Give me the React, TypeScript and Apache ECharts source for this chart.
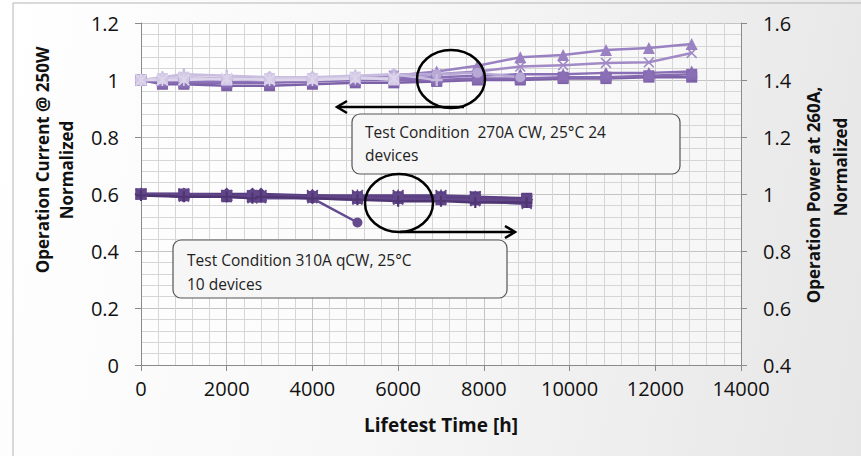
import React, { useEffect, useRef } from "react";
import * as echarts from "echarts";

// ---------- data ----------
const X_TICKS = [0, 2000, 4000, 6000, 8000, 10000, 12000, 14000];
const LEFT_TICKS = [0, 0.2, 0.4, 0.6, 0.8, 1, 1.2];
const RIGHT_TICKS = [0.4, 0.6, 0.8, 1, 1.2, 1.4, 1.6];

// Upper group: Operation Current @ 250W (left axis), 270A CW, 24 devices
const UPPER_X = [0, 500, 1000, 2000, 3000, 4000, 5000, 5900, 6900, 7850, 8850, 9850, 10850, 11850, 12850];
const U1 = [1.0, 1.0, 1.005, 1.0, 1.005, 1.005, 1.01, 1.015, 1.03, 1.05, 1.08, 1.088, 1.105, 1.112, 1.126];
const U2 = [1.0, 1.0, 1.0, 1.0, 1.0, 1.005, 1.01, 1.015, 1.02, 1.03, 1.047, 1.052, 1.06, 1.062, 1.095];
const U3 = [1.0, 1.0, 0.995, 0.995, 1.0, 1.0, 1.0, 1.005, 1.01, 1.015, 1.02, 1.02, 1.025, 1.025, 1.03];
const U4 = [1.0, 0.985, 0.985, 0.98, 0.98, 0.985, 0.99, 0.99, 0.995, 1.0, 1.0, 1.005, 1.005, 1.01, 1.01];
const U5 = [1.0, 0.99, 0.99, 0.99, 0.99, 0.995, 1.0, 1.0, 1.0, 1.005, 1.005, 1.01, 1.01, 1.015, 1.02];
const U6 = [1.0, 1.005, 1.01, 1.005, 1.01, 1.01, 1.01, 1.02, 1.02, 1.025, 1.01, null, null, null, null];
const U7 = [1.0, 1.01, 1.02, 1.015, 1.01, 1.01, 1.015, 1.02, 1.0, null, null, null, null, null, null];
const U8 = [1.0, 1.005, 1.01, 1.0, 1.005, 1.005, 1.01, 1.0, null, null, null, null, null, null, null];
const U9 = [1.0, 1.0, 1.0, 1.005, 1.0, 1.0, 1.005, 1.005, null, null, null, null, null, null, null];

// Lower group: Operation Power at 260A (right axis), 310A qCW, 10 devices
const LOWER_X = [0, 1000, 2000, 2600, 2800, 4000, 5050, 6000, 7000, 7800, 9000];
const L1 = [1.0, 0.995, 0.995, 0.99, 0.99, 0.99, 0.99, 0.99, 0.99, 0.99, 0.985];
const L2 = [1.0, 1.0, 1.0, 1.0, 1.0, 0.995, 0.99, 0.99, 0.99, 0.985, 0.98];
const L3 = [1.0, 0.99, 0.99, 0.99, 0.99, 0.985, 0.9, null, null, null, null];
const L4 = [1.0, 1.0, 0.995, 0.99, 0.995, 0.995, 0.995, 0.995, 0.995, 0.99, 0.975];
const L5 = [1.0, 0.99, 0.99, 0.985, 0.985, 0.985, 0.98, 0.98, 0.98, 0.975, 0.965];
const L6 = [1.0, 0.995, 0.99, 0.99, 0.99, 0.99, 0.985, 0.985, 0.985, 0.98, 0.97];
const L7 = [1.0, 1.0, 0.995, 0.995, 0.99, 0.99, 0.985, 0.985, 0.98, 0.98, 0.98];
const L8 = [0.995, 0.99, 0.99, 0.985, 0.99, 0.985, 0.98, 0.975, 0.975, 0.97, 0.97];

// ---------- styles ----------
const SYM_X = "path://M0,1L1,0L5,4L9,0L10,1L6,5L10,9L9,10L5,6L1,10L0,9L4,5Z";
const SYM_PLUS = "path://M4,0H6V4H10V6H6V10H4V6H0V4H4Z";
const SYM_STAR =
  "path://M0,1L1,0L5,4L9,0L10,1L6,5L10,9L9,10L5,6L1,10L0,9L4,5Z M4.4,0H5.6V10H4.4Z";

const FONT = "'Open Sans', 'Noto Sans', sans-serif";

function pairs(xs: number[], ys: (number | null)[]) {
  return xs.map((x, i) => [x, ys[i]]);
}

function line(name: string, xs: number[], ys: (number | null)[], color: string, symbol: string, size: number, yAxisIndex: number) {
  return {
    name,
    type: "line",
    yAxisIndex,
    data: pairs(xs, ys),
    symbol,
    symbolSize: size,
    showSymbol: true,
    connectNulls: false,
    lineStyle: { color, width: 2.5, join: "round" },
    itemStyle: { color, borderWidth: 0 },
    emphasis: { disabled: true },
  };
}

export default function App() {
  const ref = useRef<HTMLDivElement>(null);
  useEffect(() => {
    if (!ref.current) return;
    const chart = echarts.init(ref.current, null, { renderer: "svg" });
    const axisLabel = { color: "#111", fontSize: 20, fontFamily: FONT };
    const series = [
      line("U4", UPPER_X, U4, "#7d61a8", "rect", 11, 0),
      line("U5", UPPER_X, U5, "#876bb1", "rect", 11, 0),
      line("U3", UPPER_X, U3, "#8a6fb6", "triangle", 12, 0),
      line("U2", UPPER_X, U2, "#a18ac6", SYM_X, 11, 0),
      line("U1", UPPER_X, U1, "#9a82c2", "triangle", 12, 0),
      line("U6", UPPER_X, U6, "#b8a8d6", "circle", 10, 0),
      line("U7", UPPER_X, U7, "#c8bcdf", SYM_PLUS, 12, 0),
      line("U8", UPPER_X, U8, "#d3c9e6", "rect", 11, 0),
      line("U9", UPPER_X, U9, "#ddd6eb", SYM_STAR, 12, 0),
      line("L1", LOWER_X, L1, "#5a3d82", "rect", 11, 1),
      line("L2", LOWER_X, L2, "#553a7d", "diamond", 13, 1),
      line("L3", LOWER_X, L3, "#644a8e", "circle", 10, 1),
      line("L4", LOWER_X, L4, "#5e4387", SYM_STAR, 12, 1),
      line("L5", LOWER_X, L5, "#6b5296", SYM_X, 11, 1),
      line("L6", LOWER_X, L6, "#5c4185", "triangle", 11, 1),
      line("L7", LOWER_X, L7, "#614689", "rect", 11, 1),
      line("L8", LOWER_X, L8, "#4f3672", SYM_PLUS, 11, 1),
    ];
    const Z = 100;
    const titleStyle = {
      align: "center",
      verticalAlign: "middle",
      fontSize: 17,
      fontWeight: "bold",
      fontFamily: FONT,
      fill: "#111",
    };
    const noteStyle = { verticalAlign: "middle", fontSize: 15.5, fontFamily: FONT, fill: "#222" };
    chart.setOption({
      animation: false,
      backgroundColor: "transparent",
      grid: {
        left: 141,
        right: 120,
        top: 23,
        bottom: 91,
        show: true,
        backgroundColor: "rgba(255,255,255,0.55)",
        borderWidth: 0,
      },
      xAxis: {
        type: "value",
        min: X_TICKS[0],
        max: X_TICKS[X_TICKS.length - 1],
        interval: 2000,
        axisLine: { show: true, lineStyle: { color: "#8a8a8a", width: 1 } },
        axisTick: { show: true, length: 6, lineStyle: { color: "#8a8a8a" } },
        axisLabel: { ...axisLabel, margin: 13, formatter: (v: number) => String(v) },
        splitLine: { show: true, lineStyle: { color: "#c4c4c4", width: 1 } },
        minorTick: { show: false, splitNumber: 5 },
        minorSplitLine: { show: true, lineStyle: { color: "#d6d6d6", width: 1 } },
        name: "Lifetest Time [h]",
        nameLocation: "middle",
        nameGap: 50,
        nameTextStyle: { color: "#111", fontSize: 19, fontWeight: "bold", fontFamily: FONT },
      },
      yAxis: [
        {
          type: "value",
          min: LEFT_TICKS[0],
          max: LEFT_TICKS[LEFT_TICKS.length - 1],
          interval: 0.2,
          position: "left",
          axisLine: { show: true, lineStyle: { color: "#8a8a8a", width: 1 } },
          axisTick: { show: true, length: 6, lineStyle: { color: "#8a8a8a" } },
          axisLabel: { ...axisLabel, margin: 22 },
          splitLine: { show: true, lineStyle: { color: "#c4c4c4", width: 1 } },
          minorTick: { show: false, splitNumber: 5 },
          minorSplitLine: { show: true, lineStyle: { color: "#d6d6d6", width: 1 } },
        },
        {
          type: "value",
          min: RIGHT_TICKS[0],
          max: RIGHT_TICKS[RIGHT_TICKS.length - 1],
          interval: 0.2,
          position: "right",
          axisLine: { show: true, lineStyle: { color: "#8a8a8a", width: 1 } },
          axisTick: { show: true, length: 6, lineStyle: { color: "#8a8a8a" } },
          axisLabel: { ...axisLabel, margin: 22 },
          splitLine: { show: false },
        },
      ],
      series,
      graphic: [
        {
          type: "rect",
          z: -10,
          silent: true,
          shape: { x: 13, y: 3, width: 880, height: 480 },
          style: { fill: "none", stroke: "#b5b5b5", lineWidth: 1 },
        },
        // left axis title
        { type: "text", z: Z, x: 42, y: 160, rotation: Math.PI / 2, style: { ...titleStyle, text: "Operation Current @ 250W" } },
        { type: "text", z: Z, x: 66, y: 170, rotation: Math.PI / 2, style: { ...titleStyle, text: "Normalized" } },
        // right axis title
        { type: "text", z: Z, x: 813, y: 195, rotation: Math.PI / 2, style: { ...titleStyle, text: "Operation Power at 260A," } },
        { type: "text", z: Z, x: 840, y: 167, rotation: Math.PI / 2, style: { ...titleStyle, text: "Normalized" } },
        // upper annotation
        {
          type: "ellipse",
          z: Z,
          shape: { cx: 451, cy: 79, rx: 34, ry: 29 },
          style: { fill: "none", stroke: "#000", lineWidth: 2.5 },
        },
        {
          type: "line",
          z: Z,
          shape: { x1: 464, y1: 107, x2: 337, y2: 107 },
          style: { stroke: "#000", lineWidth: 2.5 },
        },
        {
          type: "polyline",
          z: Z,
          shape: { points: [[347, 101], [337, 107], [347, 113]] },
          style: { stroke: "#000", lineWidth: 2.5, fill: "none" },
        },
        {
          type: "rect",
          z: Z,
          shape: { x: 352, y: 114, width: 328, height: 60, r: 8 },
          style: { fill: "#f6f6f6", stroke: "#555", lineWidth: 1.2 },
        },
        { type: "text", z: Z + 1, x: 365, y: 132, style: { ...noteStyle, text: "Test Condition  270A CW, 25°C 24" } },
        { type: "text", z: Z + 1, x: 365, y: 155, style: { ...noteStyle, text: "devices" } },
        // lower annotation
        {
          type: "ellipse",
          z: Z,
          shape: { cx: 399, cy: 203, rx: 34, ry: 29 },
          style: { fill: "none", stroke: "#000", lineWidth: 2.5 },
        },
        {
          type: "line",
          z: Z,
          shape: { x1: 400, y1: 232, x2: 515, y2: 232 },
          style: { stroke: "#000", lineWidth: 2.5 },
        },
        {
          type: "polyline",
          z: Z,
          shape: { points: [[505, 226], [515, 232], [505, 238]] },
          style: { stroke: "#000", lineWidth: 2.5, fill: "none" },
        },
        {
          type: "rect",
          z: Z,
          shape: { x: 173, y: 240, width: 334, height: 58, r: 8 },
          style: { fill: "#f6f6f6", stroke: "#555", lineWidth: 1.2 },
        },
        { type: "text", z: Z + 1, x: 187, y: 260, style: { ...noteStyle, text: "Test Condition 310A qCW, 25°C" } },
        { type: "text", z: Z + 1, x: 187, y: 284, style: { ...noteStyle, text: "10 devices" } },
      ],
    });
    return () => chart.dispose();
  }, []);
  return (
    <div
      ref={ref}
      style={{
        position: "absolute",
        left: 0,
        top: 0,
        width: 861,
        height: 456,
        background: "linear-gradient(100deg, #ffffff 0%, #f7f7f7 45%, #e6e6e6 100%)",
      }}
    />
  );
}
